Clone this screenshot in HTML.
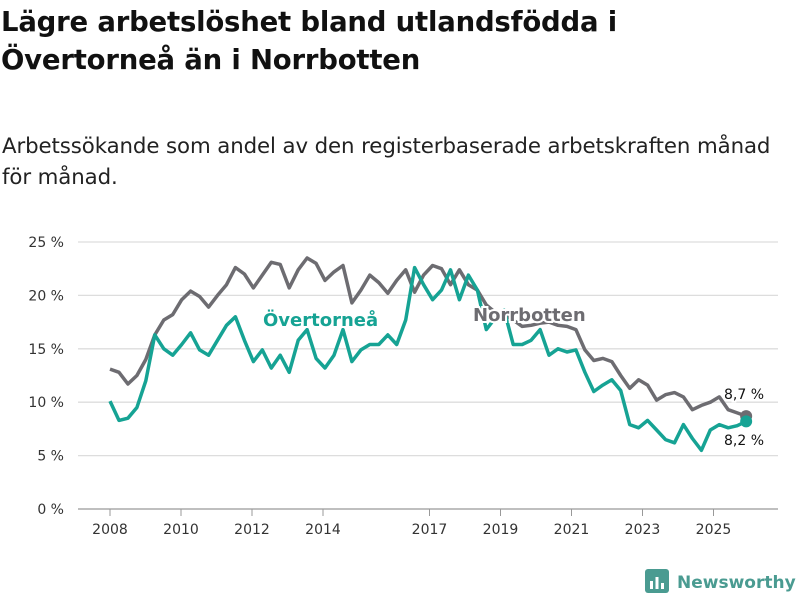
<!DOCTYPE html>
<html><head><meta charset="utf-8"><style>
body{margin:0;background:#fff;font-family:"DejaVu Sans",sans-serif;}
#wrap{position:relative;width:800px;height:600px;overflow:hidden;}
h1{position:absolute;left:1px;top:3px;margin:0;font-size:27.5px;line-height:38px;font-weight:bold;color:#111;letter-spacing:-0.2px;white-space:nowrap;}
p.sub{position:absolute;left:2px;top:131px;margin:0;font-size:21.3px;line-height:31px;color:#222;letter-spacing:-0.1px;white-space:nowrap;}
#logo{position:absolute;left:645px;top:569px;font-size:17px;font-weight:bold;color:#4a9b91;white-space:nowrap;}
</style></head><body><div id="wrap">
<h1>Lägre arbetslöshet bland utlandsfödda i<br>Övertorneå än i Norrbotten</h1>
<p class="sub">Arbetssökande som andel av den registerbaserade arbetskraften månad<br>för månad.</p>
<svg id="chart" width="800" height="600" style="position:absolute;left:0;top:0"></svg>
<div id="logo"><svg width="24" height="24" style="vertical-align:-5px;margin-right:8px"><rect x="0" y="0" width="24" height="24" rx="3" fill="#4a9b91"/><rect x="5" y="12" width="3" height="8" fill="#fff"/><rect x="10.5" y="8" width="3" height="12" fill="#fff"/><rect x="16" y="14" width="3" height="6" fill="#fff"/></svg>Newsworthy</div>
</div>
<script>
const yTicks=[0,5,10,15,20,25];
const xTickYears=[2008,2010,2012,2014,2017,2019,2021,2023,2025];
const norrbotten=[13.1,12.8,11.7,12.5,14,16.3,17.7,18.2,19.6,20.4,19.9,18.9,20,21,22.6,22,20.7,21.9,23.1,22.9,20.7,22.4,23.5,23,21.4,22.2,22.8,19.3,20.5,21.9,21.2,20.2,21.4,22.4,20.3,21.9,22.8,22.5,21,22.4,21,20.5,19.1,18.4,18.2,17.7,17.1,17.2,17.4,17.5,17.2,17.1,16.8,14.9,13.9,14.1,13.8,12.5,11.3,12.1,11.6,10.2,10.7,10.9,10.5,9.3,9.7,10,10.5,9.3,9,8.7];
const overtornea=[10.1,8.3,8.5,9.5,12,16.3,15,14.4,15.4,16.5,14.9,14.4,15.8,17.2,18,15.8,13.8,14.9,13.2,14.4,12.8,15.8,16.8,14.1,13.2,14.4,16.8,13.8,14.9,15.4,15.4,16.3,15.4,17.7,22.6,21,19.6,20.5,22.4,19.6,21.9,20.5,16.8,17.9,18.6,15.4,15.4,15.8,16.8,14.4,15,14.7,14.9,12.8,11,11.6,12.1,11.1,7.9,7.6,8.3,7.4,6.5,6.2,7.9,6.6,5.5,7.4,7.9,7.6,7.8,8.2];
const endYear=2025.92;
const FONT='DejaVu Sans,sans-serif';
const svg=document.getElementById('chart');const NS='http://www.w3.org/2000/svg';
const X=t=>110+(t-2008)*35.5;const Y=v=>509-v*10.68;
function mk(tag,a){const e=document.createElementNS(NS,tag);for(const k in a)e.setAttribute(k,a[k]);svg.appendChild(e);return e;}
yTicks.forEach(v=>{const l=mk('line',{x1:78,x2:778,y1:Y(v),y2:Y(v),stroke:v===0?'#999':'#ddd','stroke-width':1.3});


const t=mk('text',{x:64,y:Y(v)+5,'text-anchor':'end','font-size':14,fill:'#333','font-family':FONT});t.textContent=v+' %';

});
xTickYears.forEach(yr=>{const l=mk('line',{x1:X(yr),x2:X(yr),y1:509,y2:516,stroke:'#999'});


const t=mk('text',{x:X(yr),y:534,'text-anchor':'middle','font-size':14,fill:'#333','font-family':FONT});t.textContent=yr;

});
function tAt(i,n){return 2008+i*(endYear-2008)/(n-1);}
function line(arr,col,name){const d=arr.map((v,i)=>(i?'L':'M')+X(tAt(i,arr.length)).toFixed(1)+','+Y(v).toFixed(1)).join('');
const p=mk('path',{d:d,fill:'none',stroke:col,'stroke-width':3.5,'stroke-linejoin':'round'});


const last=arr[arr.length-1];const c=mk('circle',{cx:X(endYear),cy:Y(last),r:6,fill:col});

}
line(norrbotten,'#6d6c71','norrbotten-line');
line(overtornea,'#16a394','overtornea-line');
function lab(x,y,s,col,size,bold,name){const t=mk('text',{x:x,y:y,'font-size':size,fill:col,'font-weight':bold?'bold':'normal',stroke:'#fff','stroke-width':4,'paint-order':'stroke','font-family':FONT});t.textContent=s;

}
lab(263,326,'Övertorneå','#16a394',18,true,'overtornea-label');
lab(473,321,'Norrbotten','#6d6c71',18,true,'norrbotten-label');
lab(724,399,'8,7 %','#111',14,false,'norrbotten-end-value');
lab(724,445,'8,2 %','#111',14,false,'overtornea-end-value');
</script></body></html>
